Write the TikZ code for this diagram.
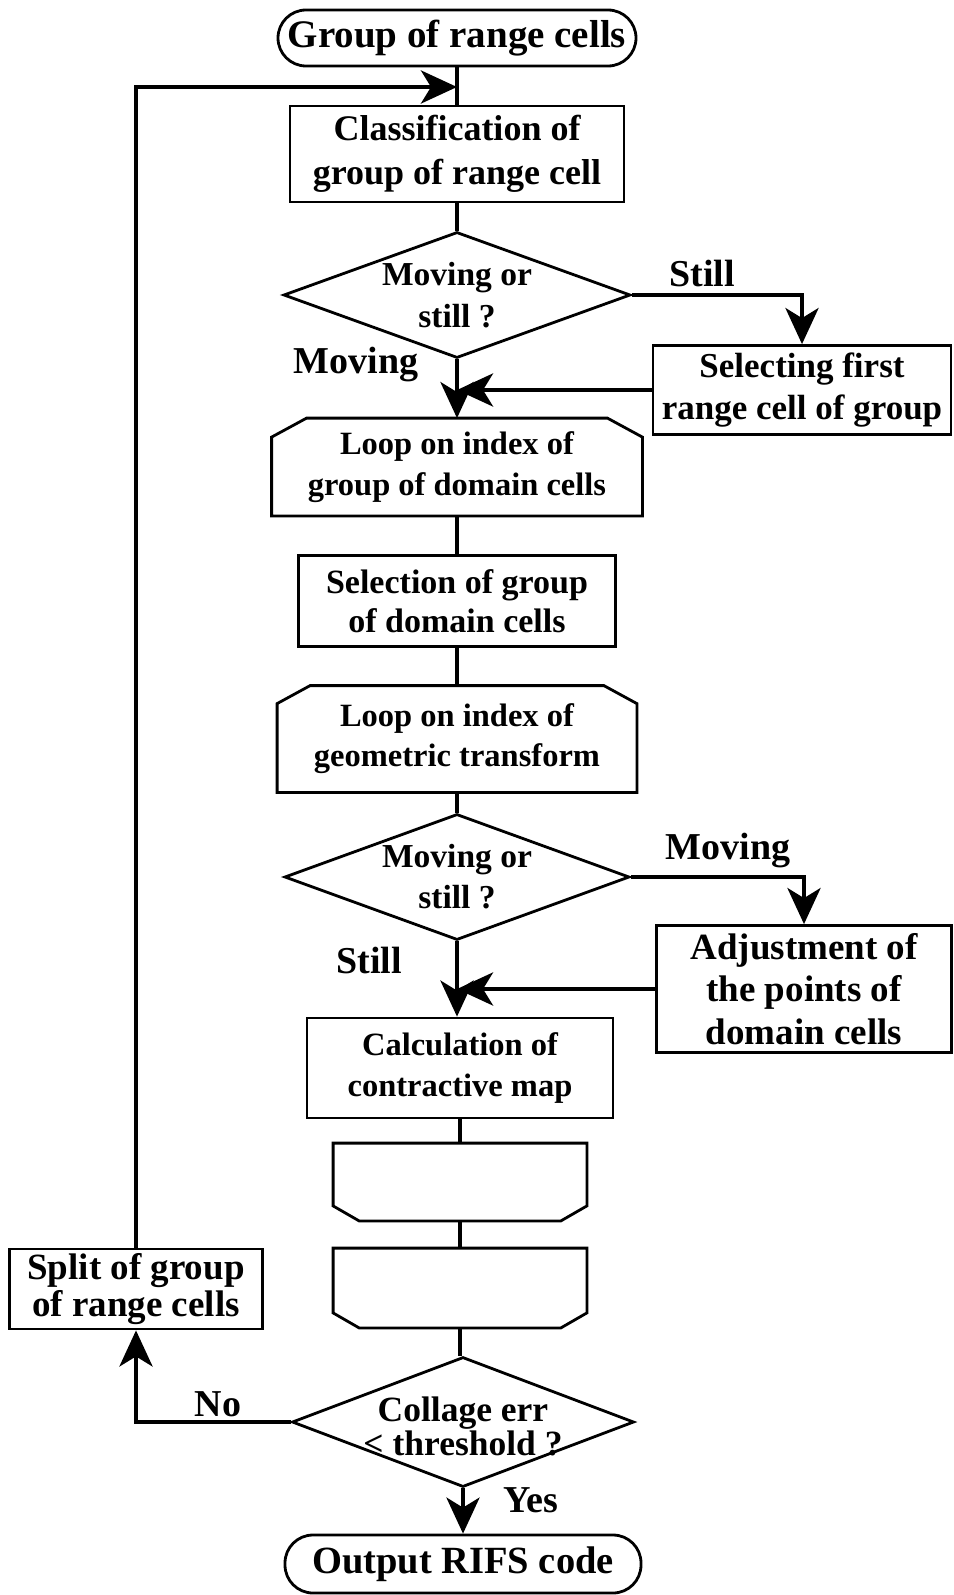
\documentclass[tikz,border=0pt]{standalone}
\usepackage{fontspec}
\setmainfont{Liberation Serif}
\usetikzlibrary{arrows.meta}
\usetikzlibrary{shapes.geometric}

\tikzset{
  fs/.style 2 args={font=\bfseries\fontsize{#1}{#2}\selectfont},
  shapeline/.style={line width=2.8pt, line join=miter},
  procbox/.style={draw, shapeline, align=center, inner sep=0pt, fs={34}{41}},
  term/.style={procbox, rounded corners=28pt},
  loopbox/.style={procbox, draw=none},
  decision/.style={procbox, diamond, aspect=2.7},
  flow/.style={line width=4.5pt},
  flowarrow/.style={flow, -{Stealth[length=36pt,width=33pt,inset=10pt]}},
  lbl/.style={fs={38}{44}, inner sep=0pt, anchor=base}
}

% outline of a loop start (cut top corners) and of a loop end (cut bottom corners)
\newcommand{\looptop}[3]{%
  \draw[shapeline] ([yshift=-#3pt]#1.north west) -- ([xshift=#2pt]#1.north west)
    -- ([xshift=-#2pt]#1.north east) -- ([yshift=-#3pt]#1.north east)
    -- (#1.south east) -- (#1.south west) -- cycle;}
\newcommand{\loopbottom}[3]{%
  \draw[shapeline] (#1.north west) -- (#1.north east) -- ([yshift=#3pt]#1.south east)
    -- ([xshift=-#2pt]#1.south east) -- ([xshift=#2pt]#1.south west)
    -- ([yshift=#3pt]#1.south west) -- cycle;}

\begin{document}
\begin{tikzpicture}[x=1pt, y=-1pt]
\useasboundingbox (0,0) rectangle (953,1595);

% main column
\node[term, fs={39}{44}, minimum width=358pt, minimum height=56pt] (start) at (457,38) {Group of range cells};
\node[procbox, fs={36}{44}, minimum width=334pt, minimum height=96pt] (classify) at (457,154) {Classification of\\group of range cell};
\node[decision, fs={33.5}{42}, minimum width=347pt, minimum height=126pt] (dec1) at (457,295) {Moving or\\still ?};
\node[procbox, fs={35}{42}, minimum width=298pt, minimum height=89pt] (select) at (802,390) {Selecting first\\range cell of group};
\node[loopbox, fs={32.5}{41}, minimum width=368pt, minimum height=95pt] (loop1) at (457,467) {Loop on index of\\group of domain cells};
\node[procbox, fs={34}{39}, minimum width=317pt, minimum height=91pt] (selgrp) at (457,601) {Selection of group\\ of domain cells};
\node[loopbox, fs={32.5}{40}, minimum width=357pt, minimum height=104pt] (loop2) at (457,739) {Loop on index of\\geometric transform};
\node[decision, fs={33.5}{41}, minimum width=345pt, minimum height=126pt] (dec2) at (457,877) {Moving or\\still ?};
\node[procbox, fs={37}{42.5}, minimum width=295pt, minimum height=127pt] (adjust) at (804,989) {Adjustment of\\the points of\\domain cells};
\node[procbox, fs={32.5}{41}, minimum width=306pt, minimum height=100pt] (calc) at (460,1068) {Calculation of\\contractive map};
\node[loopbox, minimum width=251pt, minimum height=75pt] (end1) at (460,1182) {};
\node[loopbox, minimum width=251pt, minimum height=77pt] (end2) at (460,1288) {};
\node[decision, minimum width=342pt, minimum height=130pt] (dec3) at (463,1422) {};
\node[fs={35.5}{34}, align=center, inner sep=0pt] (dec3txt) at (463,1426) {Collage err\\< threshold ?};
\node[procbox, fs={37}{37}, minimum width=253pt, minimum height=80pt] (split) at (136,1289) {Split of group\\of range cells};
\node[term, fs={38.5}{44}, minimum width=356pt, minimum height=58pt] (out) at (463,1564) {Output RIFS code};

\looptop{loop1}{35}{19}
\looptop{loop2}{33}{18}
\loopbottom{end1}{26}{15}
\loopbottom{end2}{26}{15}

% branch labels
\node[lbl] (still1) at (702,286) {Still};
\node[lbl] (moving1) at (356,373) {Moving};
\node[lbl] (moving2) at (728,859) {Moving};
\node[lbl] (still2) at (369,973) {Still};
\node[lbl] (no) at (218,1416) {No};
\node[lbl] (yes) at (531,1512) {Yes};

% connectors
\coordinate (merge) at (457,87);
\draw[flow] (start) -- (classify);
\draw[flow] (classify) -- (dec1);
\draw[flowarrow] (dec1) -- (loop1);
\draw[flowarrow] (dec1.east) -| (select.north);
\draw[flowarrow] (select.west) -- (select.west -| dec1.south);
\draw[flow] (loop1) -- (selgrp);
\draw[flow] (selgrp) -- (loop2);
\draw[flow] (loop2) -- (dec2);
\draw[flowarrow] (dec2.south) -- (dec2.south |- calc.north);
\draw[flowarrow] (dec2.east) -| (adjust.north);
\draw[flowarrow] (adjust.west) -- (adjust.west -| dec2.south);
\draw[flow] (calc) -- (end1);
\draw[flow] (end1) -- (end2);
\draw[flow] (end2.south) -- (end2.south |- dec3.north);
\draw[flowarrow] (dec3.south) -- (dec3.south |- out.north);
\draw[flowarrow] (dec3.west) -| (split.south);
\draw[flowarrow] (split.north) |- (merge);
\end{tikzpicture}
\end{document}
